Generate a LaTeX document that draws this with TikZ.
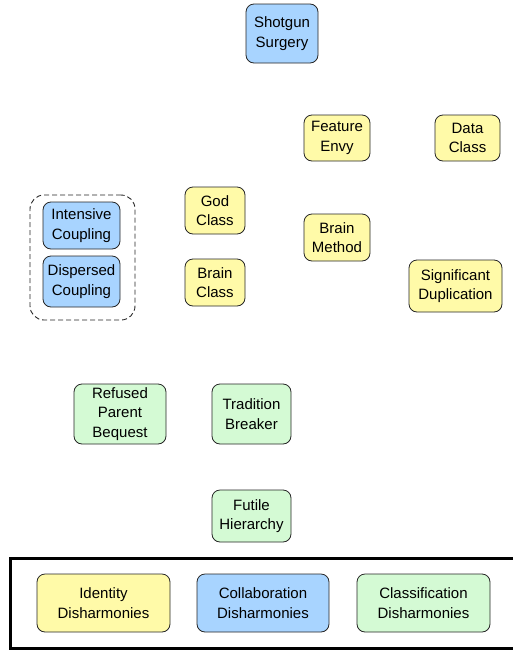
\documentclass[tikz,border=0pt]{standalone}
\usepackage{fontspec}
\setmainfont{Liberation Sans}
\begin{document}
\begin{tikzpicture}[x=1pt,y=-1pt]
\definecolor{yel}{RGB}{255,250,168}
\definecolor{blu}{RGB}{168,212,255}
\definecolor{grn}{RGB}{212,250,212}
\tikzset{
  box/.style={draw=black!85, line width=0.8pt, rounded corners=8pt, align=center,
    font=\fontsize{15}{19.5}\selectfont, inner sep=0pt},
  yb/.style={box, fill=yel},
  bb/.style={box, fill=blu},
  gb/.style={box, fill=grn},
}
\useasboundingbox (0,0) rectangle (512,651);
% nodes
\node[bb, minimum width=72pt, minimum height=59pt] (ss) at (282,33.5) {Shotgun\\Surgery};
\node[yb, minimum width=66pt, minimum height=46pt] (fe) at (337,138) {Feature\\Envy};
\node[yb, minimum width=65pt, minimum height=46pt] (dc) at (467.5,138) {Data\\Class};
\node[yb, minimum width=60pt, minimum height=47pt] (gc) at (215,210.5) {God\\Class};
\node[yb, minimum width=66pt, minimum height=47pt] (bm) at (337,237.5) {Brain\\Method};
\node[bb, minimum width=77pt, minimum height=47pt] (ic) at (81.5,225.5) {Intensive\\Coupling};
\node[bb, minimum width=77pt, minimum height=51pt] (dcp) at (81.5,281.5) {Dispersed\\Coupling};
\node[yb, minimum width=60pt, minimum height=47pt] (bc) at (215,282.5) {Brain\\Class};
\node[yb, minimum width=93pt, minimum height=52pt] (sd) at (455.5,286) {Significant\\Duplication};
\node[draw=black!85, line width=0.9pt, dash pattern=on 5pt off 3pt, rounded corners=14pt, minimum width=105pt, minimum height=125pt] (grp) at (82.5,257.5) {};
\node[gb, minimum width=92pt, minimum height=60pt] (rpb) at (120,414) {Refused\\Parent\\Bequest};
\node[gb, minimum width=79pt, minimum height=60pt] (tb) at (251.5,414) {Tradition\\Breaker};
\node[gb, minimum width=79pt, minimum height=52pt] (fh) at (251.5,516) {Futile\\Hierarchy};
% legend
\node[draw=black, line width=3pt, minimum width=510pt, minimum height=90pt, inner sep=0pt] (leg) at (265,603) {};
\node[yb, minimum width=133pt, minimum height=58pt] (id) at (103.5,603) {Identity\\Disharmonies};
\node[bb, minimum width=132pt, minimum height=58pt] (cd) at (263,603) {Collaboration\\Disharmonies};
\node[gb, minimum width=133pt, minimum height=58pt] (cld) at (423.5,603) {Classification\\Disharmonies};
\end{tikzpicture}
\end{document}
